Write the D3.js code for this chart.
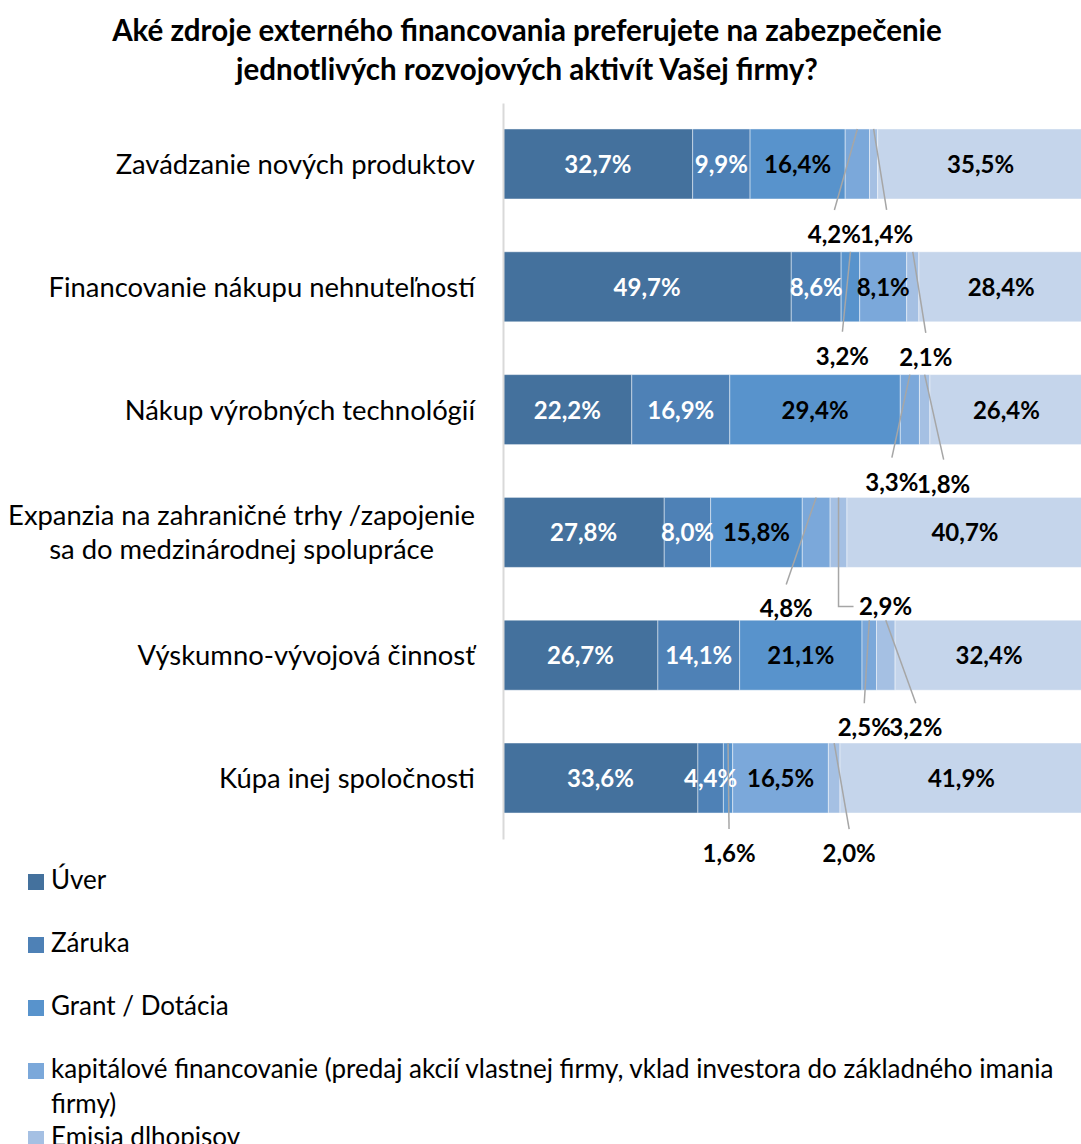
<!DOCTYPE html>
<html>
<head>
<meta charset="utf-8">
<script src="https://cdn.jsdelivr.net/npm/d3@7/dist/d3.min.js"></script>
<style>
body { margin: 0; background: #fff; }
svg { display: block; font-family: Lato, "Open Sans", sans-serif; }
</style>
</head>
<body>
<svg></svg>
<script>
// ---- data ----
const categories = [
    "Zavádzanie nových produktov",
    "Financovanie nákupu nehnuteľností",
    "Nákup výrobných technológií",
    "Expanzia na zahraničné trhy /zapojenie\nsa do medzinárodnej spolupráce",
    "Výskumno-vývojová činnosť",
    "Kúpa inej spoločnosti"
];

const seriesNames = [
    "Úver",
    "Záruka",
    "Grant / Dotácia",
    "kapitálové financovanie (predaj akcií vlastnej firmy, vklad investora do základného imania firmy)",
    "Emisia dlhopisov",
    "Iné"
];

const uver    = [32.7, 49.7, 22.2, 27.8, 26.7, 33.6];
const zaruka  = [9.9, 8.6, 16.9, 8.0, 14.1, 4.4];
const grant   = [16.4, 3.2, 29.4, 15.8, 21.1, 1.6];
const kapital = [4.2, 8.1, 3.3, 4.8, 2.5, 16.5];
const emisia  = [1.4, 2.1, 1.8, 2.9, 3.2, 2.0];
const ine     = [35.5, 28.4, 26.4, 40.7, 32.4, 41.9];

const title = [
    "Aké zdroje externého financovania preferujete na zabezpečenie",
    "jednotlivých rozvojových aktivít Vašej firmy?"
];

// ---- layout ----
const svgW = 1081, svgH = 1144;
const colors = ["#44719d", "#4e81b6", "#5893cc", "#7ba8da", "#a5c0e3", "#c5d5eb"];

// small segments labelled outside the bar (row, series, label offsets)
const callouts = [
    {row: 0, s: 3, dx: -23, dy: 35}, {row: 0, s: 4, dx: 13, dy: 35},
    {row: 1, s: 2, dx: -8, dy: 34},  {row: 1, s: 4, dx: 13, dy: 35},
    {row: 2, s: 3, dx: -18, dy: 37}, {row: 2, s: 4, dx: 19, dy: 39},
    {row: 3, s: 3, dx: -30, dy: 41}, {row: 3, s: 4, dx: 47, dy: 39, elbow: true},
    {row: 4, s: 3, dx: -5, dy: 37},  {row: 4, s: 4, dx: 30, dy: 37},
    {row: 5, s: 2, dx: 1, dy: 40},   {row: 5, s: 4, dx: 15, dy: 40}
];

const allSeries = [uver, zaruka, grant, kapital, emisia, ine];

const rows = categories.map((c, i) => {
    let o = {category: c};
    seriesNames.forEach((s, j) => o[s] = allSeries[j][i]);
    return o;
});

const stacked = d3.stack().keys(seriesNames)(rows);

const svg = d3.select("svg")
    .attr("width", svgW)
    .attr("height", svgH);

const xScale = d3.scaleLinear()
    .domain([0, 100])
    .range([503, 1083]);

const yScale = d3.scaleBand()
    .domain(categories)
    .range([103, 839])
    .paddingInner(0.43)
    .paddingOuter(0.2116);

const fmt = v => d3.format(".1f")(v).replace(".", ",") + "%";

// title
svg.append("g")
    .selectAll("text")
    .data(title)
    .enter()
    .append("text")
    .attr("x", 527)
    .attr("y", (d, i) => 41 + i * 39)
    .attr("text-anchor", "middle")
    .attr("font-weight", "bold")
    .attr("font-size", 29.5)
    .attr("fill", "#000")
    .text(d => d);

// bars
const layers = svg.append("g")
    .selectAll("g")
    .data(stacked)
    .enter()
    .append("g")
    .attr("fill", (d, i) => colors[i]);

layers.selectAll("rect")
    .data(d => d)
    .enter()
    .append("rect")
    .attr("x", d => xScale(d[0]))
    .attr("y", d => yScale(d.data.category))
    .attr("width", d => xScale(d[1]) - xScale(d[0]))
    .attr("height", yScale.bandwidth())
    .attr("stroke", "rgba(255,255,255,0.45)")
    .attr("stroke-width", 1);

// axis (vertical line only)
const yAxis = d3.axisLeft(yScale).tickSize(0).tickFormat("");
svg.append("g")
    .attr("transform", `translate(${xScale(0)},0)`)
    .call(yAxis)
    .call(g => g.select(".domain").attr("stroke", "#d9d9d9").attr("stroke-width", 2));

// category labels
const catG = svg.append("g");
categories.forEach(c => {
    const lines = c.split("\n");
    const cy = yScale(c) + yScale.bandwidth() / 2;
    const t = catG.append("text")
        .attr("font-size", 27.4)
        .attr("fill", "#000");
    lines.forEach((l, i) => {
        t.append("tspan")
            .attr("y", cy + 10 + (i - (lines.length - 1) / 2) * 34)
            .text(l);
    });
    // right aligned block, lines centered inside it
    const tsp = t.selectAll("tspan").nodes();
    const maxW = d3.max(tsp, n => n.getComputedTextLength());
    t.attr("text-anchor", "middle");
    t.selectAll("tspan").attr("x", 475 - maxW / 2);
});

// inside labels
const isCallout = (r, s) => callouts.some(c => c.row == r && c.s == s);
const labelG = svg.append("g")
    .attr("font-size", 24)
    .attr("font-weight", "bold");

stacked.forEach((layer, s) => {
    layer.forEach((d, r) => {
        if (isCallout(r, s)) return;
        labelG.append("text")
            .attr("x", xScale((d[0] + d[1]) / 2))
            .attr("y", yScale(d.data.category) + yScale.bandwidth() / 2 + 9)
            .attr("text-anchor", "middle")
            .attr("fill", s < 2 ? "#fff" : "#000")
            .text(fmt(d[1] - d[0]));
    });
});

// outside labels with leader lines
callouts.forEach(c => {
    const d = stacked[c.s][c.row];
    const segX = xScale((d[0] + d[1]) / 2);
    const top = yScale(d.data.category);
    const ly = top + yScale.bandwidth() + c.dy;
    const lx = segX + c.dx;
    let path;
    if (c.elbow) {
        path = `M${segX},${top} V${ly} H${lx - 32}`;
    } else {
        path = `M${lx},${ly - 24} L${segX},${top}`;
    }
    svg.append("path")
        .attr("d", path)
        .attr("fill", "none")
        .attr("stroke", "#a6a6a6")
        .attr("stroke-width", 1.5);
    labelG.append("text")
        .attr("x", lx)
        .attr("y", ly + 9)
        .attr("text-anchor", "middle")
        .attr("fill", "#000")
        .text(fmt(d[1] - d[0]));
});

// legend (one entry per row, wrapped entries take a bit more room)
const legend = svg.append("g")
    .attr("font-size", 26);

let cy = 882;
seriesNames.forEach((name, i) => {
    legend.append("rect")
        .attr("x", 28)
        .attr("y", cy - 8)
        .attr("width", 16)
        .attr("height", 16)
        .attr("fill", colors[i]);
    const t = legend.append("text")
        .attr("x", 51)
        .attr("y", cy + 7)
        .attr("fill", "#000");
    // greedy word wrap
    const words = name.split(" ");
    let line = [], ln = 0;
    let tspan = t.append("tspan").attr("x", 51).attr("y", cy + 7);
    for (let w of words) {
        line.push(w);
        tspan.text(line.join(" "));
        if (tspan.node().getComputedTextLength() > 1025 && line.length > 1) {
            line.pop();
            tspan.text(line.join(" "));
            line = [w];
            ln++;
            tspan = t.append("tspan").attr("x", 51).attr("y", cy + 7 + ln * 35).text(w);
        }
    }
    cy += 63 + ln * 5;
});
</script>
</body>
</html>
